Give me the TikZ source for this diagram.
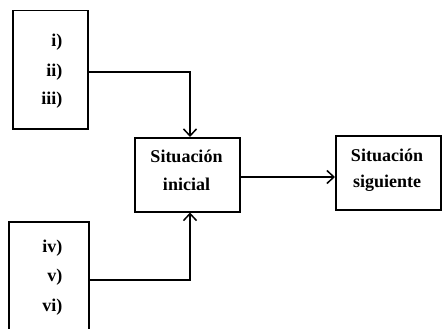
\documentclass[tikz,border=0pt]{standalone}
\usepackage{fontspec}
\setmainfont{Liberation Serif}
\usetikzlibrary{arrows.meta}
\begin{document}
\begin{tikzpicture}[x=1pt,y=-1pt,
  box/.style={draw,line width=1.5pt,inner sep=0pt,anchor=north west},
  lbl/.style={font=\fontsize{18}{20}\selectfont\bfseries},
  conn/.style={line width=1.5pt,-{Straight Barb[length=7pt,width=13pt,line width=1.5pt]}}]
\useasboundingbox (0,0) rectangle (442,329);
\clip (0,0) rectangle (442,329);
\node[box,minimum width=75pt,minimum height=118pt] (b1) at (12,10) {};
\node[box,minimum width=80pt,minimum height=130pt] (b2) at (8,221) {};
\node[box,minimum width=105pt,minimum height=74pt] (ini) at (134,137) {};
\node[box,minimum width=105pt,minimum height=74pt] (sig) at (335,135) {};
\node[lbl,anchor=east] (t1) at (66,42) {i)};
\node[lbl,anchor=east] (t2) at (66,72) {ii)};
\node[lbl,anchor=east] (t3) at (66,100) {iii)};
\node[lbl,anchor=east] (t4) at (66,248) {iv)};
\node[lbl,anchor=east] (t5) at (66,277) {v)};
\node[lbl,anchor=east] (t6) at (66,307) {vi)};
\node[lbl] (ini1) at (186.5,156) {Situación};
\node[lbl] (ini2) at (186.5,184) {inicial};
\node[lbl] (sig1) at (387,155) {Situación};
\node[lbl] (sig2) at (387,183) {siguiente};
\coordinate (c1) at (190,72);
\coordinate (c2) at (190,280);
\draw[conn] (b1.east |- c1) -- (c1) -- (c1 |- ini.north);
\draw[conn] (b2.east |- c2) -- (c2) -- (c2 |- ini.south);
\draw[conn] (ini.east |- 0,177) -- (sig.west |- 0,177);
\end{tikzpicture}
\end{document}
